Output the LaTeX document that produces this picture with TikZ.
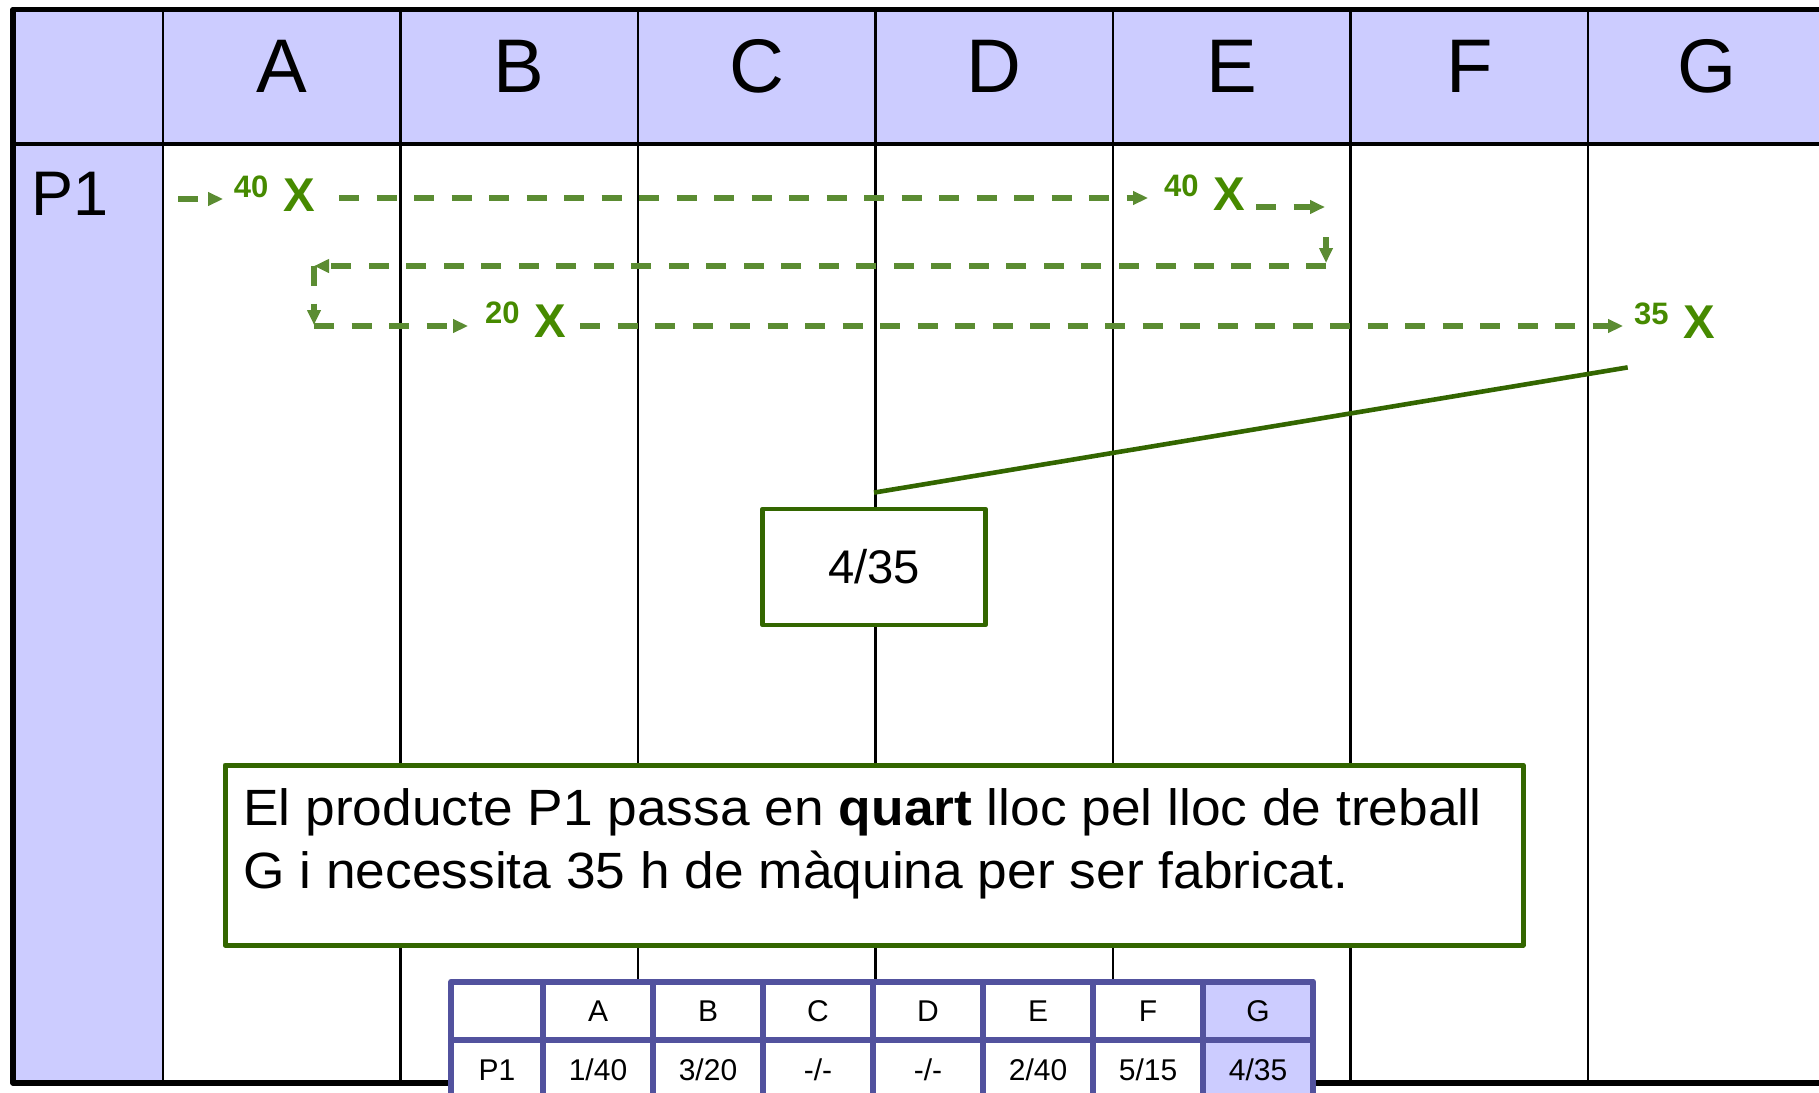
\documentclass[tikz,border=0pt]{standalone}
\usepackage{fontspec}
\setmainfont{Liberation Sans}
\newfontfamily\notefont[FakeStretch=1.045]{Liberation Sans}
\usetikzlibrary{arrows.meta}
\definecolor{lav}{HTML}{CCCCFF}
\definecolor{flowgreen}{HTML}{5B8C32}
\definecolor{xgreen}{HTML}{468A00}
\definecolor{boxgreen}{HTML}{336600}
\definecolor{tblue}{HTML}{52529E}
\newcommand{\stlabel}[1]{\raisebox{7pt}{\fontsize{15.5}{16}\selectfont #1}\hspace{7.5pt}X}
\begin{document}
\begin{tikzpicture}[x=0.5pt, y=-0.5pt, line join=round,
	grid/.style={line width=1.2pt},
	colhead/.style={anchor=base, inner sep=0, font=\fontsize{38}{40}\selectfont},
	station/.style={anchor=base west, inner sep=0, text=xgreen, font=\fontsize{23.7}{25}\selectfont\bfseries},
	flow/.style={draw=flowgreen, line width=2.6pt, dash pattern=on 10pt off 8.75pt, -{Triangle[length=7.5pt,width=6.5pt]}},
	callout/.style={draw=boxgreen, line width=2.3pt},
	valbox/.style={draw=boxgreen, line width=2.4pt, fill=white, minimum width=111.25pt, minimum height=58pt, inner sep=0, font=\fontsize{23.6}{25}\selectfont},
	notebox/.style={draw=boxgreen, line width=2.5pt, fill=white, minimum width=649pt, minimum height=90pt, inner sep=0},
	notetext/.style={anchor=base west, inner sep=0, font=\notefont\fontsize{25.5}{30}\selectfont},
	cell/.style={draw=tblue, line width=3pt, fill=white, minimum width=55pt, minimum height=29.25pt, inner sep=0, text height=11pt, text depth=0pt, font=\fontsize{15}{16}\selectfont}]
			\useasboundingbox (0,0) rectangle (1819,1092);
			\clip (0,0) rectangle (1819,1092);
			\fill[lav] (13,9.5) rectangle (1830,144);
			\fill[lav] (13,144) rectangle (163,1083);
			\foreach \i in {0,...,7}
				\draw[grid] ({163+237.5*\i},9.5) -- ({163+237.5*\i},1083);
			\draw[line width=1.8pt] (13,144) -- (1830,144);
			\draw[line width=2.8pt] (13,9.5) rectangle (1830,1083);
			\foreach \L [count=\i] in {A,B,C,D,E,F,G}
				\node[colhead] (h\L) at ({163+237.5*(\i-0.5)},92) {\L};
			\node[anchor=base west, inner sep=0, font=\fontsize{31.5}{33}\selectfont] (p1) at (31,215) {P1};
			\node[station] (stA) at (233.5,211) {\stlabel{40}};
			\node[station] (stE) at (1163.7,210) {\stlabel{40}};
			\node[station] (stB) at (484.7,337) {\stlabel{20}};
			\node[station] (stG) at (1633.7,338) {\stlabel{35}};
			\coordinate (in) at (178,199);
			\coordinate (r1) at (0,198);
			\coordinate (rE) at (1325,207);
			\coordinate (cE) at (1326,266);
			\coordinate (cA) at (314,266);
			\coordinate (cB) at (314,326);
			\draw[flow, shorten >=5.2pt] (in) -- (in -| stA.west);
			\draw[flow, shorten <=11.8pt, shorten >=7.8pt] (stA.east |- r1) -- (stE.west |- r1);
			\draw[flow, shorten <=5.2pt] (stE.east |- rE) -- (rE);
			\draw[flow, shorten >=1.5pt] ([yshift=14.5pt]cE) -- (cE);
			\draw[flow] (cE) -- (cA);
			\draw[flow, shorten >=0.5pt] (cA) -- (cB);
			\draw[flow, shorten >=8.3pt] (cB) -- (cB -| stB.west);
			\draw[flow, shorten <=6.7pt, shorten >=5.3pt] (stB.east |- cB) -- (stG.west |- cB);
			\node[valbox] (val) at (874,567) {4/35};
			\draw[callout] ([yshift=7pt]val.north) -- ([shift={(-3pt,-14.5pt)}]stG.south west);
			\node[notebox] (note) at (874,855) {};
			\node[notetext] (noteA) at (243,825) {El producte P1 passa en \textbf{quart} lloc pel lloc de treball};
			\node[notetext] (noteB) at (243,888) {G i necessita 35 h de màquina per ser fabricat.};
			\node[cell, minimum width=45.65pt] (t0) at (497,1010.75) {};
			\node[cell, minimum width=45.65pt] (v0) at (497,1069.25) {P1};
			\foreach \L/\v [count=\i] in {A/{1/40},B/{3/20},C/{-/-},D/{-/-},E/{2/40},F/{5/15}} {
				\node[cell] (t\L) at ({543+110*(\i-0.5)},1010.75) {\L};
				\node[cell] (v\L) at ({543+110*(\i-0.5)},1069.25) {\v};
			}
			\node[cell, fill=lav] (tG) at (1258,1010.75) {G};
			\node[cell, fill=lav] (vG) at (1258,1069.25) {4/35};
\end{tikzpicture}
\end{document}
